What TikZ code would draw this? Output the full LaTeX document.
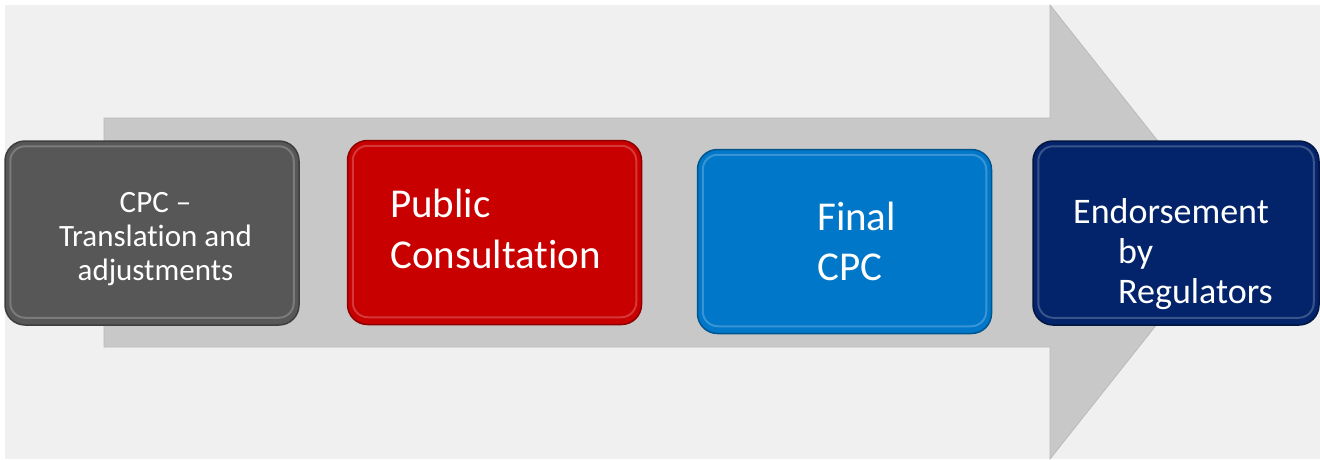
\documentclass[tikz,border=0pt]{standalone}
\usepackage{fontspec}
\setmainfont{Carlito}[Ligatures=NoCommon]
\definecolor{bgc}{HTML}{F0F0F0}
\definecolor{arrowc}{HTML}{C8C8C8}
\definecolor{arrowd}{HTML}{BABABA}
\definecolor{cgray}{HTML}{575757}
\definecolor{cgrayd}{HTML}{3E3E3E}
\definecolor{cred}{HTML}{C80000}
\definecolor{credd}{HTML}{8E0000}
\definecolor{cblue}{HTML}{0077C8}
\definecolor{cblued}{HTML}{00558F}
\definecolor{cnavy}{HTML}{03236A}
\definecolor{cnavyd}{HTML}{011640}
\begin{document}
\begin{tikzpicture}[x=1pt,y=-1pt,
  stage/.style={rounded corners=20pt, line width=1.5pt, inner sep=0pt, minimum width=294pt, minimum height=184pt},
  bevel/.style={rounded corners=15pt, line width=2pt, draw=white, draw opacity=0.22},
  txt/.style={text=white, inner sep=0pt, anchor=west}]
\useasboundingbox (0,0) rectangle (1320,459);
\fill[white] (0,0) rectangle (1320,459);
\fill[bgc] (5,5) rectangle (1320,459);
% big arrow
\path[fill=arrowc, draw=arrowd, line width=0.8pt]
  (104,118) -- (1050,118) -- (1050,5) -- (1230,232) -- (1050,459) -- (1050,347) -- (104,347) -- cycle;
% stages
\node[stage, fill=cgray, draw=cgrayd] (s1) at (152,233) {};
\node[stage, fill=cred, draw=credd] (s2) at (494.5,232.5) {};
\node[stage, fill=cblue, draw=cblued] (s3) at (844.5,241.5) {};
\node[stage, fill=cnavy, draw=cnavyd, minimum width=286pt] (s4) at (1176,233) {};
% bevel highlights
\foreach \s in {s1,s2,s3,s4}
  \draw[bevel] ([shift={(6,6)}]\s.north west) rectangle ([shift={(-6,-8)}]\s.south east);
% texts
\node[txt, anchor=center, align=center, font=\fontsize{31}{34}\selectfont] (t1) at (155.5,239) {CPC –\\Translation and\\adjustments};
\node[txt, align=left, font=\fontsize{41}{51}\selectfont] (t2) at (390,229) {Public\\Consultation};
\node[txt, align=left, font=\fontsize{41}{50}\selectfont] (t3) at (817,241) {Final\\CPC};
\node[txt, align=left, font=\fontsize{36}{40}\selectfont] (t4) at (1073,254) {Endorsement\\\hspace*{45pt}by\\\hspace*{45pt}Regulators};
\end{tikzpicture}
\end{document}
